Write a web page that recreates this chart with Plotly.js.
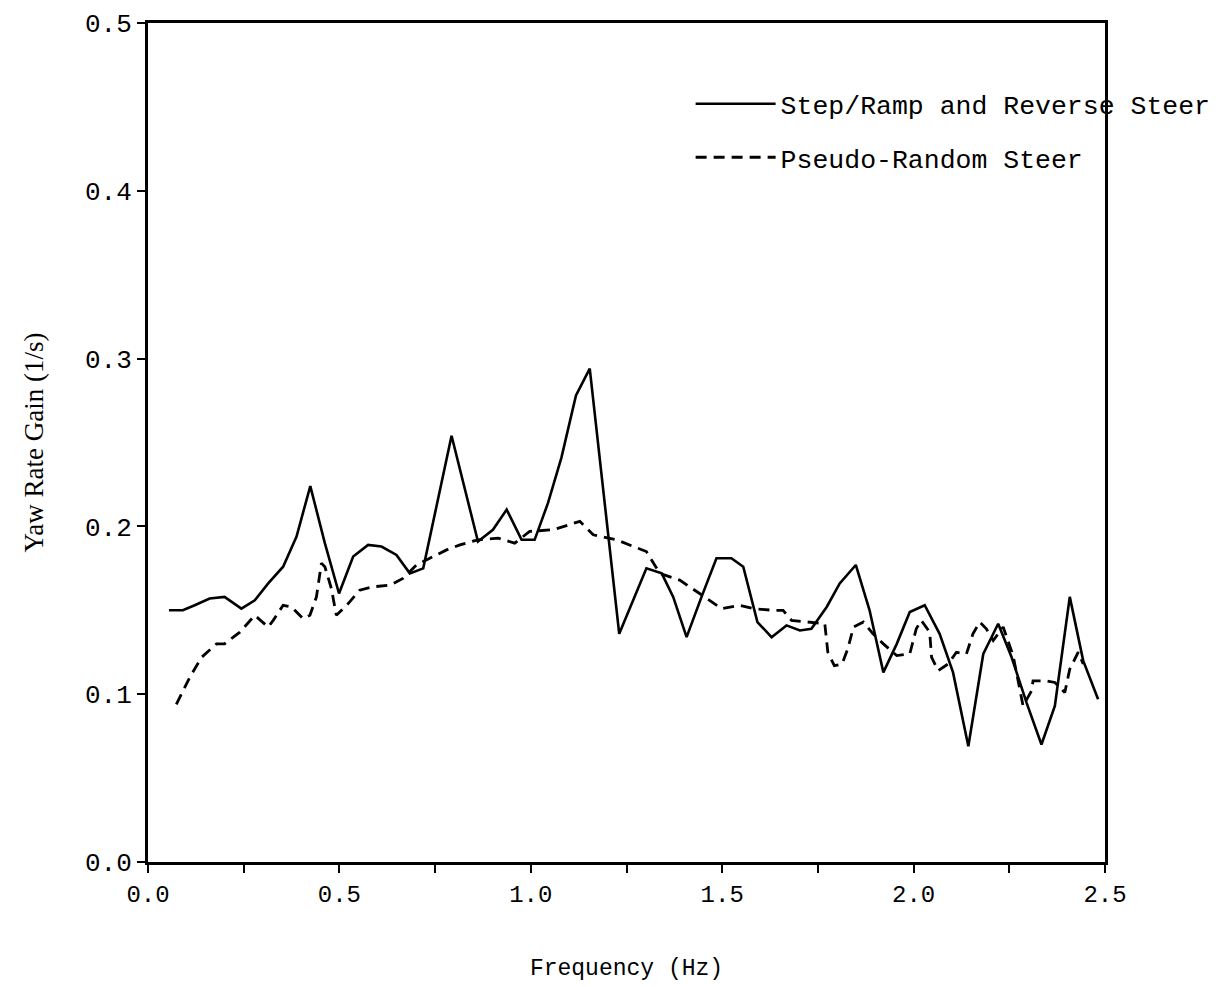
<!DOCTYPE html>
<html>
<head>
<meta charset="utf-8">
<script src="https://cdn.plot.ly/plotly-3.0.1.min.js"></script>
<style>
  html, body { margin: 0; padding: 0; background: #ffffff; }
  #chart { width: 1229px; height: 987px; }
</style>
</head>
<body>
<div id="chart"></div>
<script>
// ---- Data ----
const stepFreq = [0.055, 0.091, 0.122, 0.161, 0.200, 0.244, 0.279, 0.314, 0.353, 0.388,
  0.424, 0.462, 0.499, 0.536, 0.575, 0.610, 0.649, 0.684, 0.719, 0.793,
  0.862, 0.901, 0.937, 0.976, 1.010, 1.045, 1.080, 1.118, 1.154, 1.231,
  1.302, 1.342, 1.372, 1.407, 1.446, 1.485, 1.524, 1.555, 1.592, 1.629,
  1.668, 1.703, 1.733, 1.773, 1.807, 1.849, 1.885, 1.921, 1.956, 1.990,
  2.029, 2.068, 2.103, 2.143, 2.182, 2.221, 2.256, 2.295, 2.334, 2.369,
  2.408, 2.443, 2.482];
const stepGain = [0.150, 0.150, 0.153, 0.157, 0.158, 0.151, 0.156, 0.166, 0.176, 0.194,
  0.224, 0.190, 0.160, 0.182, 0.189, 0.188, 0.183, 0.172, 0.175, 0.254,
  0.191, 0.198, 0.210, 0.192, 0.192, 0.214, 0.241, 0.278, 0.294, 0.136,
  0.175, 0.172, 0.158, 0.134, 0.158, 0.181, 0.181, 0.176, 0.143, 0.134,
  0.141, 0.138, 0.139, 0.152, 0.166, 0.177, 0.150, 0.113, 0.130, 0.149,
  0.153, 0.136, 0.113, 0.069, 0.124, 0.142, 0.122, 0.095, 0.070, 0.093,
  0.158, 0.120, 0.097];

const prsFreq = [0.074, 0.109, 0.140, 0.179, 0.200, 0.240, 0.279, 0.314, 0.327, 0.353,
  0.375, 0.405, 0.423, 0.440, 0.453, 0.462, 0.479, 0.492, 0.523, 0.553,
  0.588, 0.632, 0.666, 0.701, 0.736, 0.780, 0.815, 0.862, 0.915, 0.958,
  0.997, 1.058, 1.128, 1.163, 1.224, 1.302, 1.337, 1.389, 1.441, 1.498,
  1.546, 1.581, 1.633, 1.659, 1.681, 1.725, 1.768, 1.776, 1.793, 1.813,
  1.828, 1.843, 1.869, 1.894, 1.921, 1.956, 1.990, 2.007, 2.020, 2.042,
  2.047, 2.064, 2.090, 2.112, 2.138, 2.155, 2.173, 2.190, 2.208, 2.234,
  2.247, 2.260, 2.286, 2.308, 2.312, 2.347, 2.369, 2.395, 2.408, 2.430,
  2.443];
const prsGain = [0.094, 0.110, 0.122, 0.130, 0.130, 0.137, 0.147, 0.140, 0.144, 0.153,
  0.152, 0.145, 0.147, 0.158, 0.178, 0.176, 0.163, 0.147, 0.154, 0.162,
  0.164, 0.165, 0.169, 0.177, 0.181, 0.186, 0.189, 0.192, 0.193, 0.190,
  0.197, 0.198, 0.203, 0.195, 0.192, 0.185, 0.172, 0.168, 0.160, 0.151,
  0.153, 0.151, 0.150, 0.150, 0.144, 0.143, 0.142, 0.125, 0.117, 0.118,
  0.127, 0.140, 0.143, 0.136, 0.130, 0.123, 0.124, 0.139, 0.144, 0.137,
  0.122, 0.114, 0.118, 0.125, 0.124, 0.136, 0.143, 0.139, 0.132, 0.140,
  0.132, 0.123, 0.093, 0.102, 0.108, 0.108, 0.107, 0.101, 0.115, 0.125,
  0.118];

const seriesNames = ["Step/Ramp and Reverse Steer", "Pseudo-Random Steer"];

const xTickVals = [0, 0.25, 0.5, 0.75, 1.0, 1.25, 1.5, 1.75, 2.0, 2.25, 2.5];
const xTickText = ["0.0", "", "0.5", "", "1.0", "", "1.5", "", "2.0", "", "2.5"];
const yTickVals = [0, 0.1, 0.2, 0.3, 0.4, 0.5];
const yTickText = ["0.0", "0.1", "0.2", "0.3", "0.4", "0.5"];

const xTitle = "Frequency (Hz)";
const yTitle = "Yaw Rate Gain (1/s)";

// ---- Chart ----
const mono = "Liberation Mono, DejaVu Sans Mono, monospace";
const serif = "Liberation Serif, DejaVu Serif, serif";

const traces = [
  {
    x: stepFreq, y: stepGain, name: seriesNames[0], type: "scatter", mode: "lines",
    legendgroup: "g1",
    line: { color: "#000000", width: 2.6 }
  },
  {
    x: prsFreq, y: prsGain, name: seriesNames[1], type: "scatter", mode: "lines",
    legendgroup: "g2",
    line: { color: "#000000", width: 2.8, dash: "11px,7px" }
  }
];

const layout = {
  width: 1229, height: 987,
  paper_bgcolor: "#ffffff", plot_bgcolor: "#ffffff",
  margin: { l: 148, r: 124, t: 23, b: 125 },
  showlegend: true,
  legend: {
    x: 0.567, y: 0.932, xanchor: "left", yanchor: "top",
    bgcolor: "rgba(0,0,0,0)", borderwidth: 0,
    font: { family: mono, size: 26.5, color: "#000000" },
    itemwidth: 80, tracegroupgap: 16, traceorder: "grouped"
  },
  xaxis: {
    range: [0, 2.5], tickmode: "array", tickvals: xTickVals, ticktext: xTickText,
    ticks: "outside", ticklen: 8, tickwidth: 2, tickcolor: "#000",
    showline: true, linecolor: "#000", linewidth: 3, mirror: true,
    showgrid: false, zeroline: false,
    tickfont: { family: mono, size: 24, color: "#000" },
    ticklabelstandoff: 0,
    title: { text: xTitle, font: { family: mono, size: 23, color: "#000" }, standoff: 52 },
    automargin: false
  },
  yaxis: {
    range: [0, 0.5], tickmode: "array", tickvals: yTickVals, ticktext: yTickText,
    ticks: "outside", ticklen: 8, tickwidth: 2, tickcolor: "#000",
    showline: true, linecolor: "#000", linewidth: 3, mirror: true,
    showgrid: false, zeroline: false,
    tickfont: { family: mono, size: 26, color: "#000" },
    ticklabelstandoff: 0,
    title: { text: yTitle, font: { family: serif, size: 27, color: "#000" }, standoff: 34 },
    automargin: false
  },
  xaxis2: {
    overlaying: "x", anchor: "y", side: "bottom", range: [0, 2.5],
    tickmode: "array", tickvals: xTickVals, ticks: "inside", ticklen: 8, tickwidth: 2,
    tickcolor: "#000", showticklabels: false, showgrid: false, zeroline: false, showline: false
  },
  yaxis2: {
    overlaying: "y", anchor: "x", side: "left", range: [0, 0.5],
    tickmode: "array", tickvals: yTickVals, ticks: "inside", ticklen: 8, tickwidth: 2,
    tickcolor: "#000", showticklabels: false, showgrid: false, zeroline: false, showline: false
  }
};

Plotly.newPlot("chart", traces, layout, { staticPlot: true, displayModeBar: false });
</script>
</body>
</html>
